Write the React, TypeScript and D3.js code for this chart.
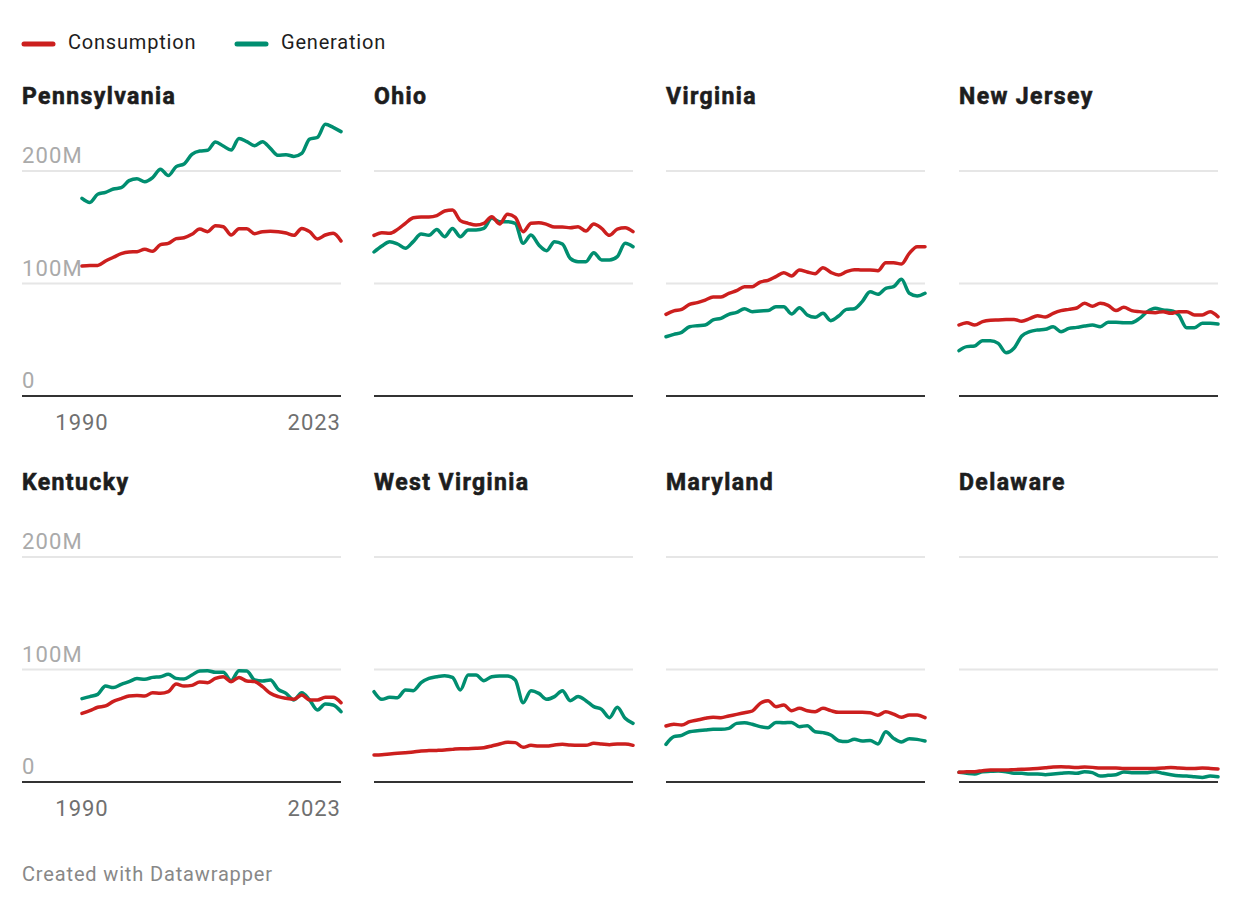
// App.tsx
import React, { useRef, useEffect } from 'react';
import * as d3 from 'd3';

const years: number[] = d3.range(1990, 2024);

const states: string[] = [
    'Pennsylvania', 'Ohio', 'Virginia', 'New Jersey',
    'Kentucky', 'West Virginia', 'Maryland', 'Delaware',
];

// values in millions (MWh), 1990..2023
const paConsumption = [115.6, 116.1, 116.1, 120.0, 123.3, 126.5, 128.0, 128.3, 130.4, 128.6, 134.5, 135.7, 139.9, 140.7, 143.7, 148.4, 146.1, 151.4, 150.5, 143.1, 148.7, 148.7, 144.3, 146.1, 146.4, 146.1, 144.9, 142.8, 149.0, 146.1, 139.6, 143.1, 144.6, 137.8];
const paGeneration = [175.7, 172.1, 179.3, 181.0, 184.0, 185.2, 191.4, 193.2, 190.5, 194.1, 201.5, 195.9, 203.9, 206.2, 214.8, 217.8, 218.4, 225.8, 222.2, 218.7, 229.0, 226.1, 222.5, 226.1, 220.1, 213.9, 214.5, 213.0, 215.7, 228.4, 229.9, 241.5, 238.8, 235.0];

const ohConsumption = [142.8, 145.2, 144.6, 148.1, 153.5, 158.5, 159.1, 159.1, 160.3, 164.4, 165.3, 155.9, 153.5, 152.0, 153.5, 159.4, 152.9, 161.5, 158.8, 146.1, 153.5, 154.1, 152.6, 150.2, 150.2, 149.6, 150.5, 146.7, 152.9, 149.0, 142.8, 148.4, 149.6, 146.1];
const ohGeneration = [128.0, 133.3, 137.2, 135.1, 131.3, 137.2, 144.0, 142.8, 148.1, 141.6, 149.0, 141.6, 147.6, 147.6, 149.0, 157.9, 155.0, 155.0, 153.5, 135.7, 143.1, 134.2, 129.2, 137.2, 135.1, 122.4, 119.4, 119.4, 127.4, 120.9, 120.9, 123.9, 135.7, 132.7];

const vaConsumption = [72.6, 75.6, 77.0, 81.5, 83.0, 85.3, 88.0, 88.0, 91.3, 93.6, 97.2, 97.2, 101.3, 102.8, 106.1, 109.6, 106.7, 112.0, 110.2, 108.7, 114.1, 109.9, 107.6, 110.5, 112.3, 112.0, 112.0, 111.4, 118.5, 118.5, 117.3, 126.8, 132.7, 132.7];
const vaGeneration = [52.7, 54.8, 56.6, 61.6, 62.5, 63.1, 67.6, 69.0, 72.6, 74.4, 77.6, 75.0, 75.6, 75.9, 79.4, 79.4, 72.9, 78.5, 72.0, 69.9, 73.5, 67.0, 71.1, 77.0, 77.6, 83.9, 92.7, 90.4, 95.7, 97.2, 103.7, 91.3, 88.9, 91.3];

const njConsumption = [63.1, 65.2, 63.1, 66.1, 67.3, 67.6, 67.9, 68.1, 66.4, 68.7, 71.4, 70.2, 73.5, 75.9, 77.0, 78.2, 82.4, 79.7, 82.4, 80.6, 75.9, 78.8, 75.9, 75.0, 74.4, 74.1, 75.0, 73.5, 75.0, 75.0, 72.0, 72.0, 75.0, 70.5];
const njGeneration = [40.3, 43.9, 44.4, 49.2, 49.2, 46.8, 38.5, 42.4, 53.3, 57.2, 58.7, 59.3, 61.6, 57.2, 60.1, 61.0, 62.2, 63.1, 61.6, 65.5, 65.5, 65.2, 65.2, 69.0, 75.0, 77.9, 76.4, 75.9, 72.0, 60.7, 60.7, 64.6, 64.6, 64.0];

const kyConsumption = [61.0, 63.4, 66.4, 67.6, 71.7, 74.1, 76.4, 77.0, 76.4, 79.4, 78.8, 80.3, 87.1, 85.3, 85.9, 88.9, 88.3, 92.1, 93.6, 89.2, 93.0, 89.8, 89.2, 84.7, 78.8, 75.9, 74.4, 73.5, 77.3, 72.9, 72.9, 75.3, 75.3, 70.5];
const kyGeneration = [74.1, 75.9, 77.9, 85.3, 83.9, 86.8, 89.2, 91.9, 91.3, 93.0, 93.6, 95.7, 92.1, 91.6, 95.1, 98.7, 99.0, 97.5, 97.5, 90.1, 99.0, 98.7, 90.7, 89.8, 90.7, 82.4, 78.8, 72.9, 79.4, 72.9, 64.0, 69.3, 68.4, 62.5];

const wvConsumption = [24.0, 24.3, 24.9, 25.5, 26.1, 26.7, 27.6, 27.9, 28.1, 28.4, 29.0, 29.6, 29.6, 29.9, 30.5, 32.0, 33.8, 35.3, 35.0, 30.8, 32.6, 32.0, 32.0, 32.9, 33.5, 32.9, 32.6, 32.6, 34.4, 33.8, 33.2, 33.8, 33.8, 32.6];
const wvGeneration = [80.3, 73.5, 75.3, 75.0, 81.8, 81.2, 88.3, 92.1, 93.6, 94.5, 93.0, 81.8, 95.1, 95.1, 90.1, 93.6, 94.2, 94.2, 90.7, 70.5, 81.2, 78.8, 73.5, 75.9, 81.2, 72.3, 75.9, 72.3, 67.0, 64.6, 57.2, 66.4, 56.6, 52.1];

const mdConsumption = [49.8, 51.3, 50.7, 53.6, 55.1, 56.6, 57.5, 57.2, 58.7, 60.1, 61.6, 63.1, 69.9, 72.3, 67.0, 68.4, 63.4, 65.5, 63.4, 62.5, 65.5, 63.4, 61.9, 61.9, 61.9, 61.9, 61.6, 59.3, 62.5, 60.4, 57.5, 59.6, 59.6, 57.2];
const mdGeneration = [33.5, 40.3, 41.5, 44.7, 45.6, 46.2, 46.8, 46.8, 47.7, 52.1, 52.7, 51.3, 49.2, 48.3, 53.0, 52.7, 53.0, 49.2, 50.1, 44.7, 43.9, 41.8, 36.7, 35.9, 37.9, 36.4, 37.0, 33.8, 44.7, 38.8, 35.6, 38.5, 37.9, 36.4];

const deConsumption = [8.6, 9.2, 9.2, 10.1, 10.7, 10.7, 10.7, 11.0, 11.3, 11.6, 12.1, 12.7, 13.3, 13.6, 13.3, 13.0, 13.3, 13.0, 12.4, 12.4, 12.4, 11.9, 12.1, 12.1, 12.1, 12.1, 12.4, 13.0, 12.4, 12.1, 12.1, 12.4, 12.1, 11.6];
const deGeneration = [8.6, 7.7, 7.1, 9.2, 9.5, 9.8, 9.2, 7.7, 7.7, 7.1, 7.1, 6.5, 7.1, 7.7, 8.3, 7.7, 9.2, 8.3, 5.3, 5.9, 6.5, 8.9, 8.3, 8.3, 8.3, 9.2, 7.7, 6.5, 5.6, 5.3, 4.7, 4.1, 5.3, 4.7];

const consumption: number[][] = [paConsumption, ohConsumption, vaConsumption, njConsumption, kyConsumption, wvConsumption, mdConsumption, deConsumption];
const generation: number[][] = [paGeneration, ohGeneration, vaGeneration, njGeneration, kyGeneration, wvGeneration, mdGeneration, deGeneration];

const yTicks: number[] = [0, 100, 200];
const yTickLabels: string[] = ['0', '100M', '200M'];
const xTickYears: number[] = [1990, 2023];

const RED = '#cc1f1e';
const GREEN = '#008e70';
const FONT = 'Roboto, "Noto Sans", sans-serif';

const App: React.FC = () => {
    const svgRef = useRef<SVGSVGElement | null>(null);

    useEffect(() => {
        const svg = d3.select(svgRef.current);
        svg.selectAll('*').remove();

        const colX = [82, 374, 666, 959];
        const plotW = 259;
        const rowBase = [396, 782];

        // legend
        const legend = svg.append('g');
        const items = [{ label: 'Consumption', color: RED, x: 22 }, { label: 'Generation', color: GREEN, x: 235 }];
        items.forEach(it => {
            legend.append('line')
                .attr('x1', it.x + 2).attr('x2', it.x + 31)
                .attr('y1', 44).attr('y2', 44)
                .attr('stroke', it.color)
                .attr('stroke-width', 5)
                .attr('stroke-linecap', 'round');
            legend.append('text')
                .attr('x', it.x + 46).attr('y', 49)
                .attr('font-family', FONT)
                .attr('font-size', 20)
                .attr('letter-spacing', 0.8)
                .attr('fill', '#1d1d1d')
                .text(it.label);
        });

        states.forEach((name, i) => {
            const col = i % 4;
            const row = Math.floor(i / 4);
            const x0 = colX[col];
            const base = rowBase[row];

            const x = d3.scaleLinear().domain([1990, 2023]).range([x0, x0 + plotW]);
            const y = d3.scaleLinear().domain([0, 240]).range([base, base - 270]);

            const g = svg.append('g');
            const gridLeft = col === 0 ? 22 : x0;

            g.append('text')
                .attr('x', gridLeft)
                .attr('y', base - 292)
                .attr('font-family', FONT)
                .attr('font-size', 23)
                .attr('font-weight', 700)
                .attr('letter-spacing', 1.4)
                .attr('fill', '#1d1d1d')
                .attr('stroke', '#1d1d1d')
                .attr('stroke-width', 0.6)
                .text(name);

            yTicks.forEach((t, k) => {
                if (t > 0) {
                    g.append('line')
                        .attr('x1', gridLeft).attr('x2', x0 + plotW)
                        .attr('y1', y(t)).attr('y2', y(t))
                        .attr('stroke', '#e6e6e6')
                        .attr('stroke-width', 2);
                }
                if (col === 0) {
                    g.append('text')
                        .attr('x', 22)
                        .attr('y', y(t) - 8)
                        .attr('font-family', FONT)
                        .attr('font-size', 22)
                        .attr('letter-spacing', 1.1)
                        .attr('fill', '#aaaaaa')
                        .text(yTickLabels[k]);
                }
            });

            const line = d3.line<number>()
                .x((_, j) => x(years[j]))
                .y(d => y(d))
                .curve(d3.curveMonotoneX);

            [generation[i], consumption[i]].forEach((series, s) => {
                g.append('path')
                    .attr('d', line(series) || '')
                    .attr('fill', 'none')
                    .attr('stroke', s === 0 ? GREEN : RED)
                    .attr('stroke-width', 3.5)
                    .attr('stroke-linejoin', 'round')
                    .attr('stroke-linecap', 'round');
            });

            g.append('line')
                .attr('x1', gridLeft).attr('x2', x0 + plotW)
                .attr('y1', base).attr('y2', base)
                .attr('stroke', '#333333')
                .attr('stroke-width', 2);

            if (col === 0) {
                xTickYears.forEach((yr, k) => {
                    g.append('text')
                        .attr('x', k === 0 ? x(yr) : x0 + plotW)
                        .attr('y', base + 34)
                        .attr('text-anchor', k === 0 ? 'middle' : 'end')
                        .attr('font-family', FONT)
                        .attr('font-size', 22)
                        .attr('letter-spacing', 1)
                        .attr('fill', '#707070')
                        .text(String(yr));
                });
            }
        });

        svg.append('text')
            .attr('x', 22)
            .attr('y', 881)
            .attr('font-family', FONT)
            .attr('font-size', 20)
            .attr('letter-spacing', 0.85)
            .attr('fill', '#888888')
            .text('Created with Datawrapper');
    }, []);

    return (
        <div style={{ position: 'absolute', left: 0, top: 0, background: '#fff' }}>
            <svg ref={svgRef} width={1240} height={920} style={{ display: 'block' }}></svg>
        </div>
    );
};

export default App;
